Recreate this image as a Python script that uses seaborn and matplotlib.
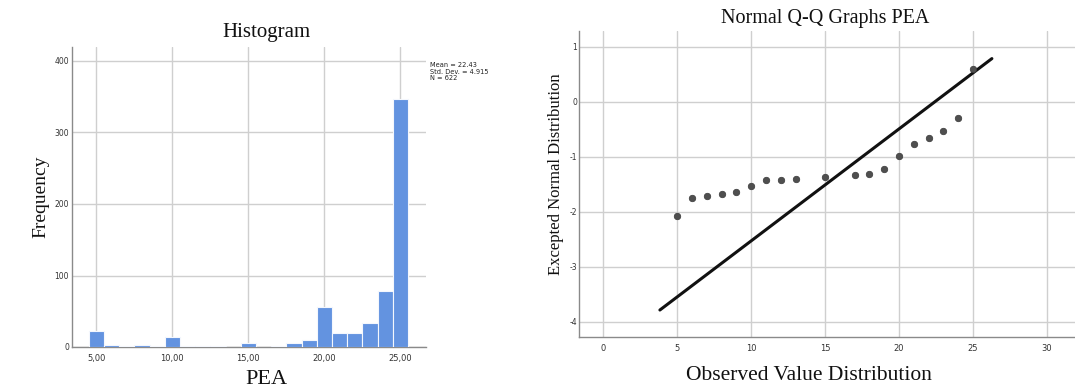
import matplotlib
matplotlib.use("Agg")
import matplotlib.pyplot as plt
import seaborn as sns
import numpy as np
import pandas as pd

# ---- Histogram data (PEA scores and frequencies) ----
pea_values = [5, 6, 7, 8, 9, 10, 11, 12, 13, 14, 15, 16, 17, 18, 19, 20, 21, 22, 23, 24, 25]
pea_counts = [23, 3, 1, 3, 1, 14, 1, 1, 1, 0, 6, 0, 1, 5, 10, 56, 19, 19, 34, 79, 347]
hist_xticks = [5, 10, 15, 20, 25]
hist_xticklabels = ["5,00", "10,00", "15,00", "20,00", "25,00"]
hist_yticks = [0, 100, 200, 300, 400]
stat_mean = 22.43
stat_sd = 4.915
stat_n = 622

# ---- Q-Q data ----
qq_observed = [5, 6, 7, 8, 9, 10, 11, 12, 13, 15, 17, 18, 19, 20, 21, 22, 23, 24, 25]
qq_expected = [-2.07, -1.75, -1.72, -1.68, -1.64, -1.53, -1.43, -1.42, -1.41, -1.36,
               -1.33, -1.31, -1.23, -0.98, -0.76, -0.66, -0.54, -0.30, 0.60]
qq_line_x = [3.83, 26.28]
qq_xticks = [0, 5, 10, 15, 20, 25, 30]
qq_yticks = [-4, -3, -2, -1, 0, 1]

sns.set_theme(style="white")
plt.rcParams["font.family"] = ["DejaVu Sans"]

W, H = 1075, 390
fig = plt.figure(figsize=(W / 100, H / 100), dpi=100)
fig.patch.set_facecolor("white")

grid_c = "#cfcfcf"
spine_c = "#8a8a8a"
tick_c = "#333333"
serif = ["Liberation Serif", "DejaVu Serif"]

# ---------------- Histogram ----------------
ax1 = fig.add_axes([71.7 / W, 1 - 347 / H, (426 - 71.7) / W, (347 - 46.7) / H])
df_h = pd.DataFrame({"PEA": pea_values, "count": pea_counts})
sns.histplot(data=df_h, x="PEA", weights="count", discrete=True, ax=ax1,
             color="#6393e0", edgecolor="#f4f7fd", linewidth=0.8, alpha=1.0, zorder=3)
ax1.set_xlim(3.38, 26.69)
ax1.set_ylim(0, 420)
ax1.set_xticks(hist_xticks)
ax1.set_xticklabels(hist_xticklabels)
ax1.set_yticks(hist_yticks)
ax1.set_yticklabels([str(v) for v in hist_yticks])
ax1.grid(True, color=grid_c, linewidth=1.0, zorder=0)
ax1.set_axisbelow(True)
for s in ["top", "right"]:
    ax1.spines[s].set_visible(False)
for s in ["left", "bottom"]:
    ax1.spines[s].set_color(spine_c)
    ax1.spines[s].set_linewidth(1.0)
ax1.tick_params(axis="x", length=0, labelsize=6, colors=tick_c, pad=5)
ax1.tick_params(axis="y", length=0, labelsize=5.5, colors=tick_c, pad=2)
ax1.set_xlabel("")
ax1.set_ylabel("")
fig.text(266 / W, 1 - 32 / H, "Histogram", family=serif, fontsize=15,
         ha="center", va="center", color="#111111")
fig.text(41 / W, 1 - 197 / H, "Frequency", family=serif, fontsize=14,
         ha="center", va="center", rotation=90, color="#111111")
fig.text(266 / W, 1 - 380 / H, "PEA", family=serif, fontsize=16,
         ha="center", va="center", color="#111111")
fig.text(430 / W, 1 - 62 / H,
         f"Mean = {stat_mean:.2f}\nStd. Dev. = {stat_sd:.3f}\nN = {stat_n}",
         fontsize=4.8, ha="left", va="top", color="#222222", linespacing=1.1)

# ---------------- Q-Q plot ----------------
ax2 = fig.add_axes([579 / W, 1 - 337.3 / H, (W - 579) / W, (337.3 - 30.7) / H])
df_q = pd.DataFrame({"obs": qq_observed, "exp": qq_expected})
line_x = np.array(qq_line_x)
df_l = pd.DataFrame({"x": line_x, "y": (line_x - stat_mean) / stat_sd})
sns.lineplot(data=df_l, x="x", y="y", ax=ax2, color="#111111", linewidth=2.2, zorder=3)
sns.scatterplot(data=df_q, x="obs", y="exp", ax=ax2, color="#4f4f4f", s=22,
                edgecolor="#3a3a3a", linewidth=0.5, zorder=4)
ax2.set_xlim(-1.64, 31.9)
ax2.set_ylim(-4.28, 1.29)
ax2.set_xticks(qq_xticks)
ax2.set_xticklabels([str(v) for v in qq_xticks])
ax2.set_yticks(qq_yticks)
ax2.set_yticklabels([str(v) for v in qq_yticks])
ax2.grid(True, color=grid_c, linewidth=1.0, zorder=0)
ax2.set_axisbelow(True)
for s in ["top", "right"]:
    ax2.spines[s].set_visible(False)
for s in ["left", "bottom"]:
    ax2.spines[s].set_color(spine_c)
    ax2.spines[s].set_linewidth(1.0)
ax2.tick_params(axis="x", length=0, labelsize=6, colors=tick_c, pad=5)
ax2.tick_params(axis="y", length=0, labelsize=5.5, colors=tick_c, pad=1.5)
ax2.set_xlabel("")
ax2.set_ylabel("")
fig.text(825 / W, 1 - 19 / H, "Normal Q-Q Graphs PEA", family=serif, fontsize=14.5,
         ha="center", va="center", color="#111111")
fig.text(556 / W, 1 - 174 / H, "Excepted Normal Distribution", family=serif, fontsize=12,
         ha="center", va="center", rotation=90, color="#111111")
fig.text(809 / W, 1 - 375 / H, "Observed Value Distribution", family=serif, fontsize=15.5,
         ha="center", va="center", color="#111111")

fig.savefig("out.png", dpi=100, facecolor="white")
